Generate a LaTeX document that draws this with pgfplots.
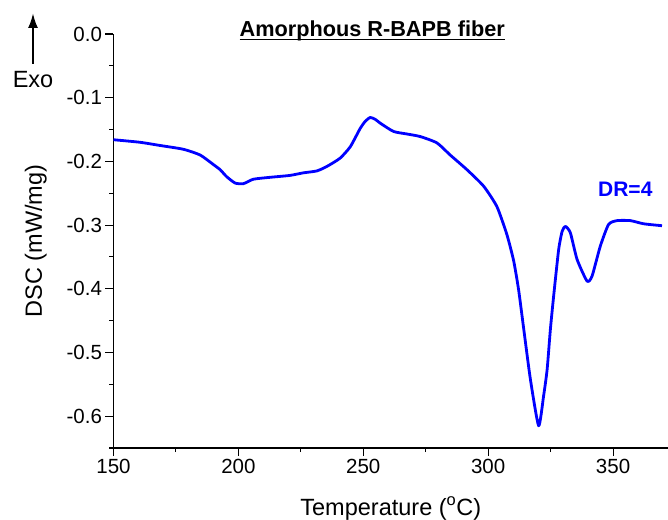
\documentclass[border=0pt]{standalone}
\usepackage{pgfplots}
\pgfplotsset{compat=1.18}
\usetikzlibrary{arrows.meta}
\usepackage{fontspec}
\setmainfont{Liberation Sans}
\begin{document}
\begin{tikzpicture}
\begin{axis}[
 scale only axis, width=554.5pt, height=414pt,
 xmin=150, xmax=372, ymin=-0.65, ymax=0,
 axis lines*=left,
 axis line style={line width=1.3pt},
 tick align=outside,
 major tick length=8pt, minor tick length=4pt,
 tick style={black, line width=1.1pt},
 xtick={150,200,250,300,350}, xticklabels={150,200,250,300,350},
 minor xtick={175,225,275,325},
 ytick={-0.6,-0.5,-0.4,-0.3,-0.2,-0.1,0},
 yticklabels={-0.6,-0.5,-0.4,-0.3,-0.2,-0.1,0.0},
 minor ytick={-0.65,-0.55,-0.45,-0.35,-0.25,-0.15,-0.05},
 tick label style={font=\fontsize{20.5}{24}\selectfont},
 xlabel={Temperature (\textsuperscript{o}C)},
 ylabel={DSC (mW/mg)},
 label style={font=\fontsize{23.5}{28}\selectfont},
 xlabel style={at={([yshift=-67pt]axis description cs:0.5,0)}, anchor=base},
 ylabel style={at={([xshift=-71.5pt]axis description cs:0,0.5)}, anchor=base},
 clip=false,
]
\addplot[color=blue, line width=2.8pt, line join=round, smooth, tension=0.35] coordinates {
(150,-0.166) (160.6,-0.170) (168.6,-0.175) (178,-0.181) (184.7,-0.190)
(190,-0.205) (192.7,-0.213) (195.3,-0.224) (198.7,-0.234) (202,-0.235)
(206,-0.228) (212.7,-0.225) (220.7,-0.222) (226,-0.218) (231.4,-0.215)
(235.4,-0.208) (240.7,-0.195) (244.8,-0.177) (248.8,-0.148) (250.8,-0.137)
(252.8,-0.131) (254.8,-0.134) (256.8,-0.140) (262.1,-0.153) (267.5,-0.157)
(272.8,-0.161) (279.5,-0.171) (284.8,-0.190) (291.5,-0.213) (298.2,-0.239)
(303.5,-0.271) (307.5,-0.315) (310.2,-0.356) (312.2,-0.402) (314.2,-0.462)
(316.9,-0.542) (320.2,-0.615) (322.2,-0.568) (323.6,-0.527) (324.9,-0.464)
(326.2,-0.412) (328.2,-0.339) (329.6,-0.310) (330.9,-0.302) (332.9,-0.312)
(335.6,-0.354) (339.6,-0.388) (341.6,-0.380) (344.9,-0.333) (348.2,-0.299)
(351.6,-0.293) (356.9,-0.293) (362.3,-0.298) (369.6,-0.301)
};
\node[anchor=base, font=\fontsize{21.7}{26}\selectfont\bfseries] at (axis cs:253.6,-0.0047)
 {\setbox0\hbox{Amorphous R-BAPB fiber}\rlap{\rule[-3.5pt]{\wd0}{1.6pt}}\box0};
\node[text=blue, font=\fontsize{21}{25}\selectfont\bfseries] at (axis cs:354.9,-0.2437) {DR=4};
\end{axis}
\draw[line width=2.3pt, -{Latex[length=15pt,width=10pt]}] ([shift={(-80.5pt,-30pt)}]current axis.north west) -- ([shift={(-80.5pt,21pt)}]current axis.north west);
\node[font=\fontsize{23.5}{28}\selectfont, anchor=base] at ([shift={(-80.5pt,-54pt)}]current axis.north west) {Exo};
\pgfresetboundingbox
\path ([shift={(-113.5pt,-71pt)}]current axis.south west) rectangle ++(668pt,519pt);
\end{tikzpicture}
\end{document}
